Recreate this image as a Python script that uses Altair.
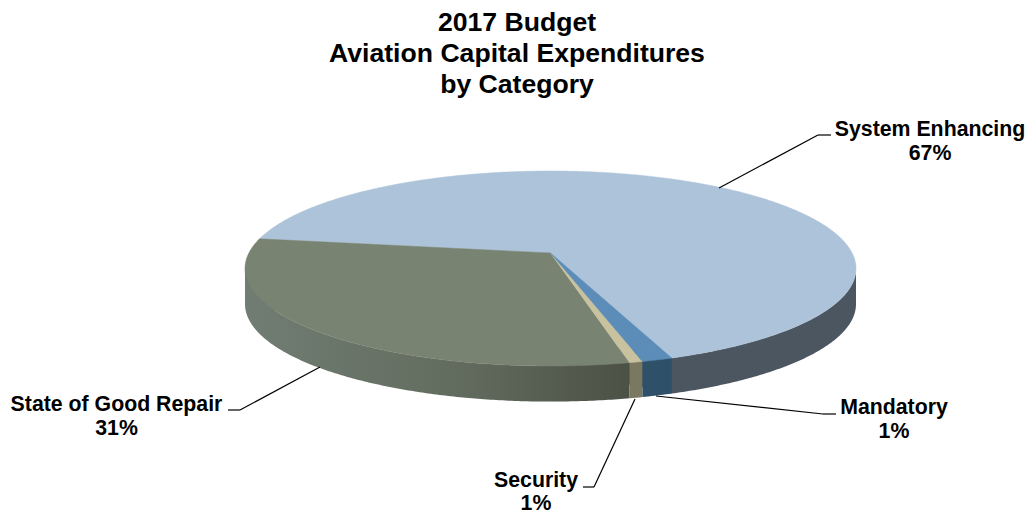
import numpy as np
import pandas as pd
import altair as alt

# Budget shares, in the order the slices run counter-clockwise around the pie
categories = ["System Enhancing", "State of Good Repair", "Security", "Mandatory"]
shares = [67, 31, 0.6, 1.4]
face_colors = ["#adc3d9", "#788372", "#c9c29e", "#5b8db8"]
wall_stops = [
    [("#606b78", 0), ("#4b5660", 0.3), ("#4b5660", 1)],
    [("#717d73", 0), ("#626c5e", 0.55), ("#4c5145", 1)],
    [("#7a7860", 0), ("#7a7860", 1)],
    [("#2f5069", 0), ("#2f5069", 1)],
]
title_lines = ["2017 Budget", "Aviation Capital Expenditures", "by Category"]

START_ANGLE = -70.0  # where the first slice begins, degrees
TILT = 0.159         # how far the pie's centre sits behind the rim's centre
DEPTH = 0.365        # wall height, in rim half-heights

x_scale = alt.Scale(domain=[-1, 1], range=[245, 856], nice=False, zero=False)
y_scale = alt.Scale(domain=[-1, 1], range=[366, 171], nice=False, zero=False)


def rim(theta_deg):
    """Project points of the pie's circular rim onto the tilted ellipse."""
    t = np.radians(theta_deg)
    c, s = np.cos(t), np.sin(t)
    d = 1 + TILT * s
    return c * np.sqrt(1 - TILT ** 2) / d, (s + TILT) / d


face_rows, wall_rows = [], []
angle = START_ANGLE
for cat, share in zip(categories, shares):
    sweep = share * 3.6
    th = np.linspace(angle, angle + sweep, max(int(sweep * 2), 2) + 1)
    u, v = rim(th)
    face_rows.append({"cat": cat, "i": 0, "u": 0.0, "v": TILT})
    for i, (a, b) in enumerate(zip(u, v), start=1):
        face_rows.append({"cat": cat, "i": i, "u": float(a), "v": float(b)})
    face_rows.append({"cat": cat, "i": len(u) + 1, "u": 0.0, "v": TILT})

    front = v <= 0
    pts = list(zip(u[front], v[front]))
    if u[~front].size and u[~front].max() > 0.5:
        pts.append((1.0, 0.0))
    if u[~front].size and u[~front].min() < -0.5:
        pts.append((-1.0, 0.0))
    for a, b in pts:
        wall_rows.append({"cat": cat, "u": float(a), "v": float(b), "v2": float(b) - DEPTH})
    angle += sweep

faces = pd.DataFrame(face_rows)
walls = pd.DataFrame(wall_rows)

layers = []

# Outer walls, each shaded left to right
for cat, stops in zip(categories, wall_stops):
    grad = alt.Gradient(
        gradient="linear", x1=0, x2=1, y1=0, y2=0,
        stops=[alt.GradientStop(color=c, offset=o) for c, o in stops],
    )
    layers.append(
        alt.Chart(walls[walls.cat == cat]).mark_area(color=grad, interpolate="linear").encode(
            x=alt.X("u:Q", scale=x_scale, axis=None),
            y=alt.Y("v:Q", scale=y_scale, axis=None),
            y2="v2:Q",
        )
    )

# Top faces of the slices
for cat, col in zip(categories, face_colors):
    layers.append(
        alt.Chart(faces[faces.cat == cat]).mark_line(fill=col, stroke=col, strokeWidth=0.5).encode(
            x=alt.X("u:Q", scale=x_scale, axis=None),
            y=alt.Y("v:Q", scale=y_scale, axis=None),
            order="i:Q",
        )
    )

# Leader lines from each slice to its label
leaders = [
    [(719, 188), (818, 135), (831, 135)],
    [(320, 367), (240, 410), (228, 410)],
    [(635, 399), (594, 487), (583, 487)],
    [(656, 396), (823, 414), (836, 414)],
]
for path in leaders:
    for (x0, y0), (x1, y1) in zip(path[:-1], path[1:]):
        layers.append(
            alt.Chart(pd.DataFrame({"a": [0]})).mark_rule(color="#000000", strokeWidth=1.2).encode(
                x=alt.value(x0), y=alt.value(y0), x2=alt.value(x1), y2=alt.value(y1)
            )
        )

# Slice labels: name on the first line, whole-number share on the second
label_pos = [(930, 129.5, 153.5), (116.5, 404.5, 428.5), (536, 480.5, 503.5), (894, 408, 432)]
for cat, share, (lx, ly1, ly2) in zip(categories, shares, label_pos):
    for txt, ly in ((cat, ly1), (f"{round(share)}%", ly2)):
        layers.append(
            alt.Chart(pd.DataFrame({"t": [txt]})).mark_text(
                font="Liberation Sans", fontSize=21.3, fontWeight="bold",
                color="#000000", align="center", baseline="middle",
            ).encode(x=alt.value(lx), y=alt.value(ly), text="t:N")
        )

# Three-line heading
for line, ly in zip(title_lines, (22.5, 54, 85)):
    layers.append(
        alt.Chart(pd.DataFrame({"t": [line]})).mark_text(
            font="Liberation Sans", fontSize=26.6, fontWeight="bold",
            color="#000000", align="center", baseline="middle",
        ).encode(x=alt.value(517), y=alt.value(ly), text="t:N")
    )

chart = alt.layer(*layers).properties(
    width=1029, height=511, padding=0,
    autosize=alt.AutoSizeParams(type="none"),
    background="#ffffff",
).configure_view(stroke=None)

chart.save("out.html", embed_options={"renderer": "svg", "actions": False})
